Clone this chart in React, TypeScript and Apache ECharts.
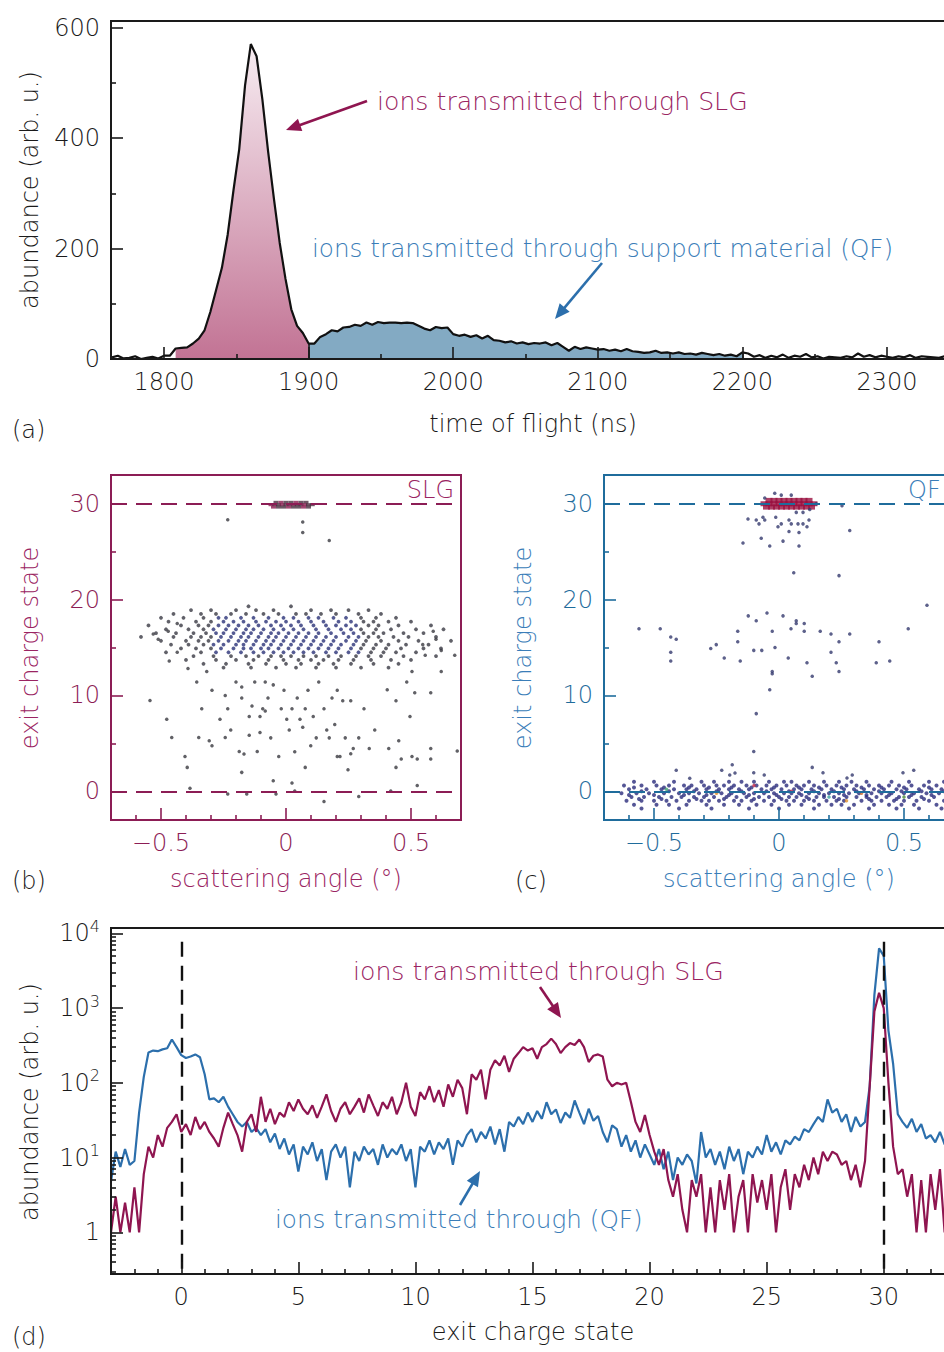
import React, { useEffect, useRef } from "react";
import * as echarts from "echarts";

// ---------------- panel (a): time-of-flight histogram ----------------
const tofStart = 1764;
const tofStep = 4;
const tofCounts = [
  3, 6, 1, 2, 5, 0, 2, 4, 1, 6,
  6, 19, 20, 21, 28, 37, 52, 85, 125, 165,
  225, 305, 380, 495, 570, 548, 470, 375, 290, 210,
  145, 90, 60, 47, 28, 28, 40, 45, 52, 50,
  57, 58, 62, 60, 66, 62, 67, 65, 66, 66,
  65, 66, 65, 60, 55, 52, 58, 56, 57, 45,
  42, 44, 40, 43, 37, 42, 34, 33, 30, 32,
  28, 30, 27, 29, 28, 30, 25, 29, 22, 15,
  22, 18, 21, 19, 17, 18, 15, 17, 14, 18,
  14, 13, 11, 12, 15, 11, 12, 10, 12, 9,
  10, 8, 11, 9, 7, 9, 6, 8, 5, 12,
  10, 4, 7, 2, 6, 3, 8, 2, 6, 4,
  9, 3, 5, 1, 4, 3, 2, 5, 3, 10,
  4, 7, 3, 6, 4, 2, 5, 3, 7, 2,
  5, 4, 3, 2, 5, 3, 4, 2,
];
const slgWindow = [1808, 1900];
const qfWindow = [1900, 2200];
const tofRange = [1763.3, 2353.3];
const tofMajor = [1800, 1900, 2000, 2100, 2200, 2300];
const tofMinor = [1850, 1950, 2050, 2150, 2250, 2350];
const abundRange = [0, 611.8];
const abundMajor = [0, 200, 400, 600];
const abundMinor = [100, 300, 500];

// ---------------- panels (b), (c): scattering maps ----------------
const angleRange = [-0.7, 0.7];
const angleMajor = [-0.5, 0, 0.5];
const angleMinor = [-0.6, -0.4, -0.3, -0.2, -0.1, 0.1, 0.2, 0.3, 0.4, 0.6];
const chargeRange = [-3, 33];
const chargeMajor = [0, 10, 20, 30];
const chargeMinor = [5, 15, 25];
const chargeLines = [30, 0];

// (b) SLG: rows [charge, angles...]
const bCoreRows = [
  [19.3, -0.15, 0.02],
  [18.9, -0.38, -0.3, -0.2, -0.12, -0.05, 0.1, 0.18, 0.25, 0.33],
  [18.5, -0.45, -0.34, -0.28, -0.22, -0.16, -0.09, -0.03, 0.04, 0.08, 0.14, 0.2, 0.29, 0.38],
  [18.1, -0.5, -0.41, -0.33, -0.27, -0.24, -0.18, -0.13, -0.07, -0.01, 0.03, 0.09, 0.13, 0.19, 0.24, 0.3, 0.36, 0.44],
  [17.7, -0.47, -0.36, -0.3, -0.25, -0.21, -0.17, -0.12, -0.08, -0.04, 0.0, 0.05, 0.1, 0.15, 0.21, 0.26, 0.31, 0.35, 0.41, 0.5],
  [17.3, -0.55, -0.42, -0.35, -0.31, -0.27, -0.23, -0.19, -0.15, -0.11, -0.06, -0.02, 0.02, 0.06, 0.11, 0.16, 0.2, 0.24, 0.28, 0.33, 0.37, 0.45, 0.58],
  [16.9, -0.48, -0.39, -0.33, -0.29, -0.24, -0.2, -0.16, -0.13, -0.09, -0.05, -0.01, 0.03, 0.07, 0.12, 0.17, 0.22, 0.26, 0.3, 0.36, 0.42, 0.52, 0.63],
  [16.5, -0.52, -0.44, -0.37, -0.32, -0.28, -0.25, -0.21, -0.17, -0.14, -0.1, -0.06, -0.03, 0.01, 0.05, 0.09, 0.13, 0.18, 0.23, 0.27, 0.31, 0.35, 0.39, 0.47, 0.55],
  [16.1, -0.58, -0.45, -0.38, -0.34, -0.3, -0.26, -0.22, -0.18, -0.15, -0.11, -0.07, -0.04, 0.0, 0.04, 0.08, 0.12, 0.16, 0.2, 0.25, 0.29, 0.33, 0.37, 0.43, 0.49, 0.6],
  [15.7, -0.5, -0.4, -0.35, -0.31, -0.27, -0.23, -0.19, -0.16, -0.12, -0.08, -0.05, -0.01, 0.03, 0.07, 0.11, 0.15, 0.19, 0.24, 0.28, 0.32, 0.38, 0.45, 0.53, 0.66],
  [15.3, -0.46, -0.39, -0.33, -0.29, -0.25, -0.2, -0.17, -0.13, -0.09, -0.06, -0.02, 0.02, 0.06, 0.1, 0.14, 0.18, 0.22, 0.27, 0.31, 0.36, 0.41, 0.48, 0.57],
  [14.9, -0.42, -0.36, -0.3, -0.26, -0.21, -0.17, -0.14, -0.1, -0.07, -0.03, 0.01, 0.05, 0.09, 0.13, 0.17, 0.21, 0.26, 0.3, 0.35, 0.4, 0.46, 0.55, 0.62],
  [14.5, -0.48, -0.34, -0.28, -0.23, -0.18, -0.13, -0.09, -0.05, -0.01, 0.03, 0.07, 0.11, 0.16, 0.2, 0.25, 0.29, 0.34, 0.39, 0.44, 0.52],
  [14.1, -0.37, -0.29, -0.22, -0.16, -0.11, -0.06, -0.02, 0.02, 0.07, 0.12, 0.17, 0.22, 0.28, 0.33, 0.38, 0.47, 0.6],
  [13.7, -0.4, -0.28, -0.2, -0.13, -0.07, -0.01, 0.05, 0.1, 0.15, 0.21, 0.27, 0.34, 0.42, 0.5],
  [13.3, -0.33, -0.24, -0.15, -0.08, 0.0, 0.06, 0.13, 0.19, 0.26, 0.35, 0.45],
  [12.9, -0.25, -0.14, -0.04, 0.04, 0.12, 0.2, 0.3, 0.41],
];
// (b) isolated events, flat [angle, charge, angle, charge, ...]
const bSparse = [
  -0.531, 16.4, -0.511, 15.85, -0.471, 16.7, -0.435, 17.5, -0.467, 13.6, -0.435, 14.5, -0.392, 12.8,
  0.589, 16.7, 0.6, 15.85, 0.621, 14.7, 0.675, 14.2, 0.547, 15.3, 0.557, 14.2, 0.504, 12.5,
  -0.544, 9.48, -0.477, 7.51, -0.457, 5.6, -0.404, 3.63, -0.395, 2.49, -0.384, 0.31, -0.357, 11.4,
  -0.349, 5.6, -0.337, 8.6, -0.317, 12.5, -0.307, 5.26, -0.296, 10.55, -0.296, 4.74, -0.264, 7.51,
  -0.243, 10.0, -0.243, 5.6, -0.233, 8.6, -0.233, -0.28, -0.221, 6.4, -0.2, 11.4, -0.187, 4.15,
  -0.177, 10.87, -0.177, 9.72, -0.177, 1.97, -0.168, 3.88, -0.157, -0.28, -0.147, 7.79, -0.147, 5.85,
  -0.136, 8.9, -0.125, 11.4, -0.115, 4.15, -0.104, 7.79, -0.104, 6.12, -0.093, 8.6, -0.083, 8.37,
  -0.083, 11.4, -0.072, 9.72, -0.061, 5.57, -0.051, 1.1, -0.051, 11.1, -0.04, -0.28, -0.029, 3.63,
  -0.019, 8.6, -0.008, 10.55, 0.003, 7.51, 0.013, 6.4, 0.024, 0.87, 0.024, 8.6, 0.035, 4.12,
  0.035, 0.03, 0.045, 9.72, 0.056, 7.51, 0.067, 6.68, 0.077, 2.49, 0.077, 8.6, 0.088, 10.55,
  0.099, 4.74, 0.109, 7.79, 0.121, 5.57, 0.131, 11.4, 0.152, 8.6, 0.152, -1.07, 0.163, 6.4,
  0.173, 5.57, 0.184, 9.72, 0.195, 6.96, 0.205, 3.63, 0.205, 10.55, 0.216, 3.63, 0.227, 9.45,
  0.237, 5.57, 0.248, 2.25, 0.259, 9.45, 0.259, 3.91, 0.269, 4.46, 0.291, 5.57, 0.291, -0.55,
  0.312, 8.6, 0.333, 4.46, 0.355, 6.4, 0.405, 10.6, 0.411, 4.46, 0.419, 0.03, 0.44, 9.45,
  0.44, 2.49, 0.451, 5.26, 0.461, 3.36, 0.483, 11.4, 0.496, 7.79, 0.504, 3.63, 0.515, 10.28,
  0.525, 3.36, 0.525, 0.59, 0.579, 4.46, 0.579, 3.36, 0.579, 10.28, 0.621, 12.5, 0.685, 4.19,
  -0.233, 28.34, 0.067, 28.1, 0.067, 27.0, 0.173, 26.16,
];
const b30Rows = [
  [30.15, -0.04, -0.02, 0.0, 0.02, 0.04, 0.06, 0.08],
  [29.9, -0.06, -0.045, -0.03, -0.015, 0.0, 0.015, 0.03, 0.045, 0.06, 0.075, 0.09, 0.105],
  [29.65, -0.05, -0.03, -0.01, 0.01, 0.03, 0.05, 0.07, 0.09],
];

// (c) QF
const c30Rows = [
  [30.35, -0.04, -0.02, 0.0, 0.02, 0.04, 0.06, 0.08, 0.1, 0.12],
  [30.0, -0.06, -0.04, -0.02, 0.0, 0.02, 0.04, 0.06, 0.08, 0.1, 0.12, 0.14],
  [29.65, -0.05, -0.03, -0.01, 0.01, 0.03, 0.05, 0.07, 0.09, 0.11, 0.13],
];
const cSparse = [
  -0.057, 30.6, -0.017, 31.1, 0.009, 30.9, 0.049, 30.9, -0.064, 28.6, -0.124, 28.4, -0.091, 28.3,
  -0.08, 27.9, -0.057, 28.3, -0.013, 28.6, -0.004, 27.6, 0.009, 27.9, 0.04, 28.3, 0.049, 27.9,
  0.04, 27.1, 0.076, 27.9, 0.08, 27.0, 0.096, 27.9, 0.112, 27.6, 0.12, 28.3, 0.069, 29.1,
  0.096, 29.1, 0.123, 29.4, 0.149, 30.0, 0.252, 29.8, -0.144, 25.9, -0.071, 26.4, -0.037, 25.6,
  0.016, 26.1, 0.08, 25.6, 0.283, 27.2, 0.059, 22.8, 0.24, 22.5, 0.592, 19.4,
  -0.56, 16.95, -0.475, 16.95, -0.433, 16.1, -0.411, 15.85, -0.433, 14.5, -0.433, 13.6, -0.273, 14.9,
  -0.251, 15.3, -0.219, 13.9, -0.165, 16.7, -0.165, 15.6, -0.155, 13.6, -0.123, 18.3, -0.091, 17.8,
  -0.101, 14.7, -0.069, 14.7, -0.048, 18.6, -0.027, 16.7, -0.016, 15.0, -0.027, 12.5, -0.027, 12.25,
  -0.037, 10.6, 0.016, 18.3, 0.048, 16.95, 0.069, 17.8, 0.069, 17.5, 0.101, 17.5, 0.101, 16.7,
  0.037, 13.9, 0.112, 13.4, 0.133, 12.0, 0.165, 16.7, 0.208, 16.4, 0.208, 14.5, 0.24, 15.6,
  0.229, 13.4, 0.24, 12.5, 0.283, 16.4, 0.389, 13.4, 0.4, 15.6, 0.443, 13.6, 0.517, 16.95,
  -0.091, 8.1, -0.101, 4.15,
  -0.411, 2.2, -0.357, 1.35, -0.229, 2.2, -0.187, 2.77, -0.197, 1.7, -0.176, 1.9, -0.101, 1.94,
  -0.059, 1.7, 0.133, 2.49, 0.176, 1.94, 0.272, 1.38, 0.293, 1.7, 0.496, 1.94, 0.539, 2.2,
];
const cBandRows = [
  [1.0, -0.58, -0.5, -0.42, -0.31, -0.26, -0.2, -0.15, -0.1, -0.04, 0.02, 0.05, 0.12, 0.18, 0.24, 0.29, 0.35, 0.45, 0.52, 0.6, 0.66],
  [0.6, -0.62, -0.55, -0.49, -0.44, -0.38, -0.35, -0.3, -0.25, -0.22, -0.18, -0.13, -0.09, -0.05, -0.01, 0.03, 0.07, 0.1, 0.14, 0.19, 0.23, 0.27, 0.31, 0.36, 0.4, 0.44, 0.48, 0.53, 0.58, 0.63, 0.68],
  [0.4, -0.58, -0.46, -0.36, -0.28, -0.19, -0.11, -0.02, 0.08, 0.16, 0.25, 0.33, 0.41, 0.5, 0.6, 0.7],
  [0.2, -0.6, -0.53, -0.47, -0.42, -0.37, -0.33, -0.29, -0.24, -0.2, -0.16, -0.12, -0.07, -0.03, 0.01, 0.06, 0.09, 0.13, 0.17, 0.21, 0.26, 0.3, 0.34, 0.38, 0.42, 0.47, 0.51, 0.56, 0.61, 0.65, 0.69],
  [0.0, -0.55, -0.44, -0.34, -0.25, -0.15, -0.05, 0.04, 0.14, 0.22, 0.31, 0.4, 0.49, 0.57, 0.66],
  [-0.2, -0.63, -0.57, -0.52, -0.46, -0.4, -0.36, -0.32, -0.27, -0.23, -0.19, -0.14, -0.1, -0.06, -0.02, 0.02, 0.05, 0.08, 0.12, 0.16, 0.2, 0.24, 0.28, 0.32, 0.37, 0.41, 0.45, 0.5, 0.54, 0.59, 0.64, 0.68],
  [-0.4, -0.6, -0.5, -0.38, -0.29, -0.2, -0.12, -0.01, 0.09, 0.18, 0.26, 0.35, 0.44, 0.53, 0.61, 0.69],
  [-0.6, -0.59, -0.54, -0.48, -0.43, -0.39, -0.34, -0.3, -0.26, -0.21, -0.17, -0.13, -0.08, -0.04, 0.0, 0.04, 0.07, 0.11, 0.15, 0.18, 0.22, 0.27, 0.31, 0.35, 0.39, 0.43, 0.48, 0.52, 0.57, 0.62, 0.67],
  [-0.8, -0.56, -0.47, -0.33, -0.22, -0.1, 0.01, 0.12, 0.24, 0.36, 0.47, 0.58],
  [-1.0, -0.61, -0.55, -0.5, -0.45, -0.41, -0.36, -0.31, -0.28, -0.24, -0.18, -0.15, -0.11, -0.06, -0.02, 0.03, 0.06, 0.1, 0.14, 0.19, 0.23, 0.26, 0.33, 0.37, 0.41, 0.46, 0.5, 0.55, 0.6, 0.66, 0.7],
  [-1.4, -0.58, -0.49, -0.44, -0.37, -0.29, -0.22, -0.16, -0.09, -0.03, 0.04, 0.09, 0.16, 0.21, 0.25, 0.3, 0.38, 0.44, 0.49, 0.54, 0.63, 0.69],
  [-1.8, -0.55, -0.4, -0.27, -0.12, 0.0, 0.14, 0.28, 0.36, 0.47, 0.56, 0.65],
];
const cBandHot = [-0.45, 0.2, -0.25, -0.2, 0.05, 0.0, 0.2, -0.6, 0.33, -0.2, 0.5, -0.6, -0.1, 0.6, 0.27, -1.0];

// ---------------- panel (d): exit charge state spectra ----------------
const qStart = -3;
const qStep = 0.2;
const qfCounts = [
  4.8, 12, 7.5, 13, 8, 9, 40, 120, 255, 270,
  265, 280, 290, 380, 300, 235, 215, 225, 240, 220,
  130, 60, 62, 55, 65, 48, 38, 30, 26, 30,
  22, 25, 20, 24, 16, 21, 13, 18, 11, 15,
  6.5, 14, 11, 16, 9, 13, 5, 12, 15, 10,
  14, 4, 12, 9, 14, 11, 13, 8, 15, 10,
  13, 11, 15, 9, 13, 4, 14, 12, 17, 11,
  16, 13, 18, 8, 17, 14, 20, 24, 16, 22,
  18, 26, 15, 24, 12, 30, 26, 35, 28, 40,
  30, 42, 33, 55, 38, 44, 29, 40, 34, 58,
  40, 28, 45, 31, 36, 22, 16, 27, 24, 14,
  20, 12, 17, 10, 15, 11, 8, 13, 7, 12,
  5, 10, 8, 11, 9, 4.5, 22, 10, 13, 8,
  12, 7, 14, 9, 13, 6, 12, 10, 14, 11,
  20, 12, 16, 11, 17, 15, 19, 17, 24, 22,
  28, 35, 30, 60, 40, 45, 30, 38, 22, 35,
  26, 30, 90, 1500, 6300, 5000, 500, 180, 38, 30,
  25, 33, 22, 28, 18, 20, 16, 22, 15, 14, 12,
];
const slgCounts = [
  1, 3, 1, 2.5, 1, 4, 1, 6, 14, 10,
  20, 14, 25, 30, 38, 22, 28, 20, 35, 24,
  30, 22, 18, 14, 25, 40, 28, 20, 12, 30,
  38, 22, 65, 30, 45, 28, 40, 35, 55, 42,
  60, 45, 38, 50, 34, 48, 70, 42, 30, 45,
  55, 38, 48, 62, 40, 70, 50, 36, 55, 45,
  65, 38, 55, 100, 48, 36, 75, 60, 90, 55,
  80, 48, 95, 65, 110, 85, 38, 130, 110, 150,
  60, 150, 200, 170, 230, 140, 210, 250, 300, 270,
  290, 210, 300, 330, 390, 330, 250, 300, 340, 320,
  380, 300, 190, 230, 240, 225, 110, 90, 100, 95,
  100, 56, 30, 22, 37, 20, 12, 8, 13, 5,
  3, 6, 2, 1, 5, 3, 6, 1, 4, 1,
  5, 2, 6, 1, 3, 5, 1, 6, 2.5, 5,
  2, 6, 1, 4, 7, 2, 6, 4, 8, 5,
  10, 6, 12, 9, 12, 11, 8, 9, 5, 8,
  4, 9, 90, 900, 1600, 1000, 100, 14, 6, 7,
  3, 6, 1, 5, 1, 6, 2, 7, 1, 4, 2,
];
const qRange = [-3, 33];
const qMajor = [0, 5, 10, 15, 20, 25, 30];
const qMinor = [-2, -1, 1, 2, 3, 4, 6, 7, 8, 9, 11, 12, 13, 14, 16, 17, 18, 19, 21, 22, 23, 24, 26, 27, 28, 29, 31, 32];
const logRange = [0.277, 11780];
const logMajor = [1, 10, 100, 1000, 10000];
const logMinor = [
  0.3, 0.4, 0.5, 0.6, 0.7, 0.8, 0.9,
  2, 3, 4, 5, 6, 7, 8, 9,
  20, 30, 40, 50, 60, 70, 80, 90,
  200, 300, 400, 500, 600, 700, 800, 900,
  2000, 3000, 4000, 5000, 6000, 7000, 8000, 9000,
];
const refCharges = [0, 30];
const refLineTop = 7700;

// ---------------- styling ----------------
const FONT = "'DejaVu Sans', 'Liberation Sans', sans-serif";
const W = 200;
const FS = 24;
const FS_SLG = 25.2;
const FS_QF = 24.7;
const INK = "#1a1a1a";
const RED = "#8c1d55";
const RED_T = "#9a2462";
const BLUE = "#1f6c9c";
const BLUE_T = "#3a7db8";
const LINE_RED = "#8f1550";
const LINE_BLUE = "#2c6fac";

const rowsToPoints = (rows: number[][]) =>
  rows.flatMap(([y, ...xs]) => xs.map((x) => [x, y]));
const flatToPoints = (flat: number[]) => {
  const out: number[][] = [];
  for (let i = 0; i + 1 < flat.length; i += 2) out.push([flat[i], flat[i + 1]]);
  return out;
};
const plainFmt = (v: number) => String(v);
const minusFmt = (v: number) => (v < 0 ? "\u2212" + String(-v) : String(v));
const logFmt = (v: number) =>
  Math.abs(v - 1) < 1e-6 ? "{b|1}" : "{b|10}{s|" + Math.round(Math.log10(v)) + "}";

function mkAxis(o: any) {
  const labels = !!o.labels;
  return {
    type: o.type || "value",
    logBase: 10,
    gridIndex: o.grid,
    min: o.range[0],
    max: o.range[1],
    position: o.position,
    z: 10,
    axisLine: { show: labels, onZero: false, lineStyle: { color: o.color, width: 2 } },
    splitLine: { show: false },
    minorTick: { show: false },
    minorSplitLine: { show: false },
    axisTick: {
      show: true,
      inside: true,
      length: o.len,
      customValues: o.ticks,
      lineStyle: { color: o.color, width: 1.6 },
    },
    axisLabel: labels
      ? {
          show: true,
          customValues: o.ticks,
          color: o.color,
          fontSize: FS,
          fontFamily: FONT,
          fontWeight: W,
          margin: 11,
          formatter: o.formatter || plainFmt,
          rich: o.rich,
        }
      : { show: false },
  };
}

function txt(text: string, x: number, y: number, color: string, o: any = {}) {
  const align = o.align || "left";
  return {
    type: "text",
    x,
    y,
    rotation: o.rot || 0,
    z: 100,
    style: {
      text,
      fill: color,
      fontSize: o.fs || FS,
      fontFamily: FONT,
      fontWeight: W,
      align,
      textAlign: align,
      verticalAlign: "middle",
      textVerticalAlign: "middle",
    },
  };
}

function arrow(x1: number, y1: number, x2: number, y2: number, color: string) {
  const dx = x2 - x1;
  const dy = y2 - y1;
  const L = Math.hypot(dx, dy);
  const ux = dx / L;
  const uy = dy / L;
  const hl = 15;
  const hw = 6.5;
  const bx = x2 - ux * hl;
  const by = y2 - uy * hl;
  return [
    { type: "line", z: 100, shape: { x1, y1, x2: bx + ux * 3, y2: by + uy * 3 }, style: { stroke: color, lineWidth: 2.6 } },
    {
      type: "polygon",
      z: 100,
      shape: { points: [[x2, y2], [bx - uy * hw, by + ux * hw], [bx + uy * hw, by - ux * hw]] },
      style: { fill: color },
    },
  ];
}

function buildOption() {
  const tofData = tofCounts.map((c, i) => [tofStart + i * tofStep, c]);
  const pinkData = tofData.filter((d) => d[0] >= slgWindow[0] && d[0] <= slgWindow[1]);
  const blueData = tofData.filter((d) => d[0] >= qfWindow[0] && d[0] <= qfWindow[1]);
  const qfData = qfCounts.map((c, i) => [qStart + i * qStep, c]);
  const slgData = slgCounts.map((c, i) => [qStart + i * qStep, c]);
  const valAt = (x: number) => tofData.find((d) => d[0] === x)?.[1] ?? 0;

  const bCore = rowsToPoints(bCoreRows);
  const bIso = flatToPoints(bSparse);
  const b30 = rowsToPoints(b30Rows);
  const c30 = rowsToPoints(c30Rows);
  const cIso = flatToPoints(cSparse);
  const cBand = rowsToPoints(cBandRows);
  const cHot = flatToPoints(cBandHot);
  const hotColors = ["#3f9f6f", "#e0902a", "#c02848", "#3aa0a0", "#d06a2a", "#4a8a3a", "#c02848", "#e0902a"];

  const richLog = {
    b: { fontSize: FS, fontFamily: FONT, fontWeight: W, color: INK, lineHeight: 30 },
    s: { fontSize: 16, fontFamily: FONT, fontWeight: W, color: INK, verticalAlign: "top", lineHeight: 16 },
  };

  const xAxis = [
    mkAxis({ grid: 0, range: tofRange, ticks: tofMajor, len: 12, color: INK, labels: true, position: "bottom" }),
    mkAxis({ grid: 0, range: tofRange, ticks: tofMinor, len: 5, color: INK, position: "bottom" }),
    mkAxis({ grid: 1, range: angleRange, ticks: angleMajor, len: 12, color: RED, labels: true, position: "bottom", formatter: minusFmt }),
    mkAxis({ grid: 1, range: angleRange, ticks: angleMinor, len: 5, color: RED, position: "bottom" }),
    mkAxis({ grid: 2, range: angleRange, ticks: angleMajor, len: 12, color: BLUE, labels: true, position: "bottom", formatter: minusFmt }),
    mkAxis({ grid: 2, range: angleRange, ticks: angleMinor, len: 5, color: BLUE, position: "bottom" }),
    mkAxis({ grid: 3, range: qRange, ticks: qMajor, len: 12, color: INK, labels: true, position: "bottom" }),
    mkAxis({ grid: 3, range: qRange, ticks: qMinor, len: 5, color: INK, position: "bottom" }),
  ];
  const yAxis = [
    mkAxis({ grid: 0, range: abundRange, ticks: abundMajor, len: 12, color: INK, labels: true, position: "left" }),
    mkAxis({ grid: 0, range: abundRange, ticks: abundMinor, len: 5, color: INK, position: "left" }),
    mkAxis({ grid: 1, range: chargeRange, ticks: chargeMajor, len: 12, color: RED, labels: true, position: "left" }),
    mkAxis({ grid: 1, range: chargeRange, ticks: chargeMinor, len: 5, color: RED, position: "left" }),
    mkAxis({ grid: 2, range: chargeRange, ticks: chargeMajor, len: 12, color: BLUE, labels: true, position: "left" }),
    mkAxis({ grid: 2, range: chargeRange, ticks: chargeMinor, len: 5, color: BLUE, position: "left" }),
    mkAxis({ grid: 3, type: "log", range: logRange, ticks: logMajor, len: 12, color: INK, labels: true, position: "left", formatter: logFmt, rich: richLog }),
    mkAxis({ grid: 3, type: "log", range: logRange, ticks: logMinor, len: 5, color: INK, position: "left" }),
  ];

  const dashed = (color: string) => ({ color, width: 2, type: [16, 9] });

  const series: any[] = [
    {
      type: "line", xAxisIndex: 0, yAxisIndex: 0, data: pinkData, symbol: "none", z: 2,
      lineStyle: { width: 0 },
      areaStyle: {
        opacity: 1,
        color: new echarts.graphic.LinearGradient(0, 0, 0, 1, [
          { offset: 0, color: "#f7edf2" },
          { offset: 1, color: "#c27394" },
        ]),
      },
    },
    {
      type: "line", xAxisIndex: 0, yAxisIndex: 0, data: blueData, symbol: "none", z: 2,
      lineStyle: { width: 0 },
      areaStyle: { opacity: 1, color: "#83aac3" },
    },
    {
      type: "line", xAxisIndex: 0, yAxisIndex: 0, data: tofData, symbol: "none", z: 3,
      lineStyle: { color: "#111", width: 2.2 },
      markLine: {
        silent: true, symbol: "none", label: { show: false },
        lineStyle: { color: "#111", width: 1.5, type: "solid" },
        data: [
          [{ coord: [slgWindow[1], 0] }, { coord: [slgWindow[1], valAt(slgWindow[1])] }],
          [{ coord: [qfWindow[1], 0] }, { coord: [qfWindow[1], valAt(qfWindow[1])] }],
        ],
      },
    },
    // (b)
    {
      type: "scatter", xAxisIndex: 2, yAxisIndex: 2, data: bIso, symbolSize: 3.5, z: 3,
      itemStyle: { color: "#3a3a40" },
      markLine: {
        silent: true, symbol: "none", label: { show: false }, lineStyle: dashed(RED),
        data: chargeLines.map((v) => ({ yAxis: v })),
      },
    },
    {
      type: "scatter", xAxisIndex: 2, yAxisIndex: 2, data: bCore, symbolSize: 3.8, z: 3,
      itemStyle: {
        color: (p: any) => {
          const [x, y] = p.value;
          return Math.abs(x) < 0.3 && y > 14.2 && y < 18.3 ? "#2b3278" : "#3a3a44";
        },
      },
    },
    {
      type: "scatter", xAxisIndex: 2, yAxisIndex: 2, data: b30, symbol: "rect", symbolSize: [5, 3], z: 4,
      itemStyle: { color: (p: any) => (p.dataIndex % 3 === 1 ? "#8a1d50" : "#4a3040") },
    },
    // (c)
    {
      type: "scatter", xAxisIndex: 4, yAxisIndex: 4, data: cIso, symbolSize: 3.5, z: 3,
      itemStyle: { color: "#343a6e" },
      markLine: {
        silent: true, symbol: "none", label: { show: false }, lineStyle: dashed(BLUE),
        data: chargeLines.map((v) => ({ yAxis: v })),
      },
    },
    {
      type: "scatter", xAxisIndex: 4, yAxisIndex: 4, data: cBand, symbolSize: 4, z: 3,
      itemStyle: { color: "#2b2c7c" },
    },
    {
      type: "scatter", xAxisIndex: 4, yAxisIndex: 4, data: cHot, symbolSize: 3.5, z: 4,
      itemStyle: { color: (p: any) => hotColors[p.dataIndex % hotColors.length] },
    },
    {
      type: "scatter", xAxisIndex: 4, yAxisIndex: 4, data: c30, symbol: "rect", symbolSize: [7, 5], z: 2,
      itemStyle: { color: "#9a1040" },
    },
    // (d)
    {
      type: "line", xAxisIndex: 6, yAxisIndex: 6, data: qfData, symbol: "none", z: 3,
      lineStyle: { color: LINE_BLUE, width: 2.2 },
    },
    {
      type: "line", xAxisIndex: 6, yAxisIndex: 6, data: slgData, symbol: "none", z: 4,
      lineStyle: { color: LINE_RED, width: 2.2 },
      markLine: {
        silent: true, symbol: "none", label: { show: false },
        lineStyle: { color: "#111", width: 2.4, type: [15, 9] },
        data: refCharges.map((q) => [{ coord: [q, refLineTop] }, { coord: [q, logRange[0]] }]),
      },
    },
  ];

  const graphic: any[] = [
    // (a)
    txt("abundance (arb. u.)", 30, 190, INK, { align: "center", rot: Math.PI / 2 }),
    txt("time of flight (ns)", 533, 424, INK, { align: "center" }),
    txt("(a)", 12, 430, INK),
    txt("ions transmitted through SLG", 377, 101, RED_T, { fs: FS_SLG }),
    ...arrow(367, 101, 286, 130, LINE_RED),
    txt("ions transmitted through support material (QF)", 312, 248, BLUE_T, { fs: FS_QF }),
    ...arrow(602, 263, 555, 319, LINE_BLUE),
    // (b)
    txt("exit charge state", 30, 648, RED_T, { align: "center", rot: Math.PI / 2 }),
    txt("scattering angle (\u00b0)", 286, 879, RED_T, { align: "center" }),
    txt("SLG", 454, 490, RED_T, { align: "right" }),
    txt("(b)", 12, 881, INK),
    // (c)
    txt("exit charge state", 523, 648, BLUE_T, { align: "center", rot: Math.PI / 2 }),
    txt("scattering angle (\u00b0)", 779, 879, BLUE_T, { align: "center" }),
    txt("QF", 908, 490, BLUE_T),
    txt("(c)", 515, 881, INK),
    // (d)
    txt("abundance (arb. u.)", 30, 1102, INK, { align: "center", rot: Math.PI / 2 }),
    txt("exit charge state", 533, 1332, INK, { align: "center" }),
    txt("(d)", 12, 1337, INK),
    txt("ions transmitted through SLG", 353, 971, RED_T, { fs: FS_SLG }),
    ...arrow(540, 987, 561, 1018, LINE_RED),
    txt("ions transmitted through (QF)", 275, 1219, BLUE_T, { fs: FS_QF }),
    ...arrow(460, 1205, 480, 1171, LINE_BLUE),
  ];

  return {
    animation: false,
    backgroundColor: "#ffffff",
    grid: [
      { left: 111, top: 21, width: 853, height: 338, show: true, borderColor: INK, borderWidth: 2 },
      { left: 111, top: 475, width: 350, height: 345, show: true, borderColor: RED, borderWidth: 2 },
      { left: 604, top: 475, width: 350, height: 345, show: true, borderColor: BLUE, borderWidth: 2 },
      { left: 111, top: 928, width: 843, height: 346, show: true, borderColor: INK, borderWidth: 2 },
    ],
    xAxis,
    yAxis,
    series,
    graphic,
  };
}

export default function App() {
  const ref = useRef<HTMLDivElement>(null);
  useEffect(() => {
    if (!ref.current) return;
    const chart = echarts.init(ref.current, null, { renderer: "svg" });
    chart.setOption(buildOption() as any);
    return () => chart.dispose();
  }, []);
  return (
    <div
      style={{ position: "absolute", left: 0, top: 0, width: 944, height: 1352, overflow: "hidden", background: "#fff" }}
    >
      <div ref={ref} style={{ width: 990, height: 1352 }} />
    </div>
  );
}
